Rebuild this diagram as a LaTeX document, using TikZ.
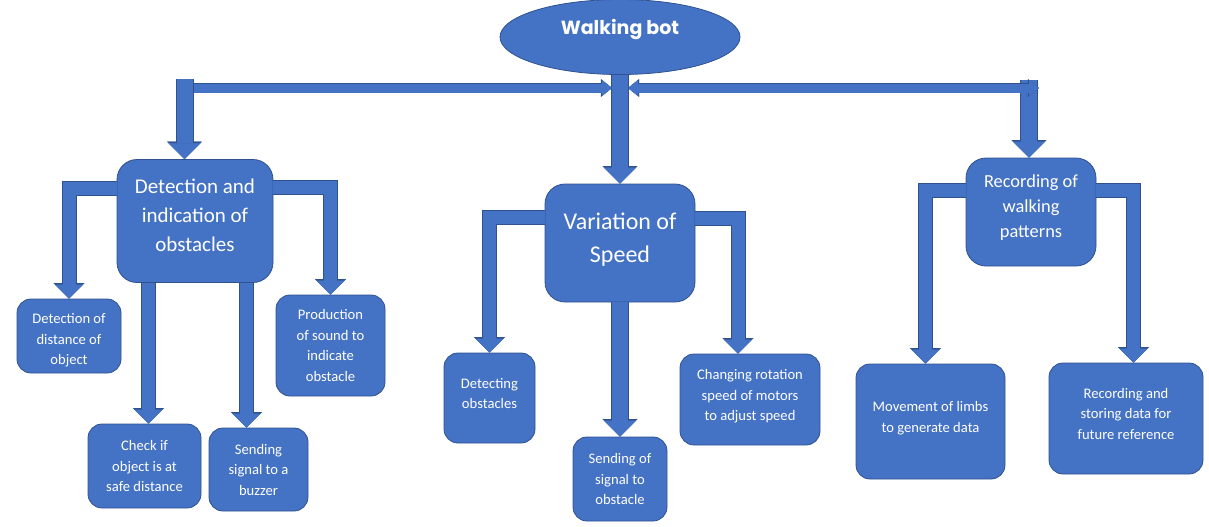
\documentclass[tikz,border=0pt]{standalone}
\usepackage{fontspec}
\setmainfont{Carlito}
\newfontfamily\titlefont{Poppins}
\usepackage{tikz}
\usetikzlibrary{shapes.geometric, arrows.meta, positioning}
\definecolor{boxblue}{RGB}{68,114,196}
\definecolor{edgeblue}{RGB}{47,82,143}

\begin{document}
\begin{tikzpicture}[x=0.5pt, y=-0.5pt,
  rootnode/.style={ellipse, draw=edgeblue, fill=boxblue, text=white, inner sep=0pt, minimum width=120pt, minimum height=37.5pt, font=\titlefont\bfseries\fontsize{9.5}{11}\selectfont, text height=7pt, text depth=9.4pt},
  block/.style={rectangle, draw=edgeblue, fill=boxblue, text=white, align=center, rounded corners=10pt, inner sep=0pt},
  subblock/.style={block, rounded corners=7pt, font=\fontsize{7.3}{10.25}\selectfont},
  line/.style={draw=boxblue, line width=8pt, -{Triangle[width=16pt,length=8pt,line width=0.2pt]}, preaction={draw=edgeblue, line width=9pt, -{Triangle[width=17.5pt,length=8.8pt,line width=0.2pt]}}},
  subline/.style={draw=boxblue, line width=6.5pt, -{Triangle[width=14pt,length=7pt,line width=0.2pt]}, preaction={draw=edgeblue, line width=7.5pt, -{Triangle[width=15.5pt,length=7.8pt,line width=0.2pt]}}},
  bus/.style={draw=boxblue, line width=4.5pt, {Triangle[width=8pt,length=5pt,line width=0.2pt]}-{Triangle[width=8pt,length=5pt,line width=0.2pt]}, preaction={draw=edgeblue, line width=5.3pt, {Triangle[width=9pt,length=5.6pt,line width=0.2pt]}-{Triangle[width=9pt,length=5.6pt,line width=0.2pt]}}}]
  \useasboundingbox (0,0) rectangle (1209,526);

  \node [rootnode] (bot) at (620,37) {Walking bot};
  \node [block, minimum width=78pt, minimum height=61.5pt, text depth=6pt, font=\fontsize{10.5}{14.5}\selectfont] (det) at (195,221) {Detection and\\indication of\\obstacles};
  \node [block, minimum width=75pt, minimum height=59pt, text depth=5.3pt, font=\fontsize{12}{16.5}\selectfont] (speed) at (620,243) {Variation of\\Speed};
  \node [block, minimum width=65pt, minimum height=54pt, text depth=5.8pt, font=\fontsize{9.2}{12.5}\selectfont] (rec) at (1031,212) {Recording of\\walking\\patterns};

  \node [subblock, minimum width=52pt, minimum height=37pt, text height=30pt] (dist) at (69,336) {Detection of\\distance of\\object};
  \node [subblock, minimum width=56.5pt, minimum height=42pt] (check) at (144.5,466) {Check if\\object is at\\safe distance};
  \node [subblock, minimum width=49.5pt, minimum height=41.5pt] (buzz) at (258.5,469.5) {Sending\\signal to a\\buzzer};
  \node [subblock, minimum width=54.5pt, minimum height=50.5pt] (sound) at (330.5,345.5) {Production\\of sound to\\indicate\\obstacle};
  \node [subblock, minimum width=45.5pt, minimum height=45pt, text depth=4.5pt] (detobs) at (489.5,398) {Detecting\\obstacles};
  \node [subblock, minimum width=47pt, minimum height=42pt] (sendobs) at (620,479) {Sending of\\signal to\\obstacle};
  \node [subblock, minimum width=70pt, minimum height=45.5pt, text depth=4.5pt] (motor) at (750,399.5) {Changing rotation\\speed of motors\\to adjust speed};
  \node [subblock, minimum width=74.5pt, minimum height=57.5pt, text depth=4.5pt] (limbs) at (930.5,421.5) {Movement of limbs\\to generate data};
  \node [subblock, minimum width=77pt, minimum height=55.5pt, text depth=5pt] (store) at (1126,418.5) {Recording and\\storing data for\\future reference};

  \coordinate (hub) at (620,88);
  \coordinate (busL) at (184.5,79);
  \coordinate (busR) at (1029,80);

  \path [bus] ([xshift=-2pt]busL |- hub) -- ([xshift=-4pt]hub);
  \path [line] (busL) -- (busL |- det.north);
  \path [line] (busR) -- (busR |- rec.north);
  \path [bus] ([xshift=4pt]hub) -- ([xshift=5pt]busR |- hub);
  \path [line] (bot) -- (speed);

  \path [subline] ([yshift=-14.5pt]det.north west) -| (dist.north);
  \path [subline] ([yshift=-14pt]det.north east) -| (sound.north);
  \path [subline] ([xshift=2pt]check.north |- det.south) -- ([xshift=2pt]check.north);
  \path [subline] ([xshift=-6pt]buzz.north |- det.south) -- ([xshift=-6pt]buzz.north);

  \path [subline] ([yshift=-17pt]speed.north west) -| (detobs.north);
  \path [subline] ([yshift=-17.5pt]speed.north east) -| ([xshift=-6pt]motor.north);
  \path [line] (speed) -- (sendobs);

  \path [subline] ([yshift=-16.5pt]rec.north west) -| ([xshift=-2.5pt]limbs.north);
  \path [subline] ([yshift=-16.5pt]rec.north east) -| ([xshift=3.75pt]store.north);
\end{tikzpicture}
\end{document}
